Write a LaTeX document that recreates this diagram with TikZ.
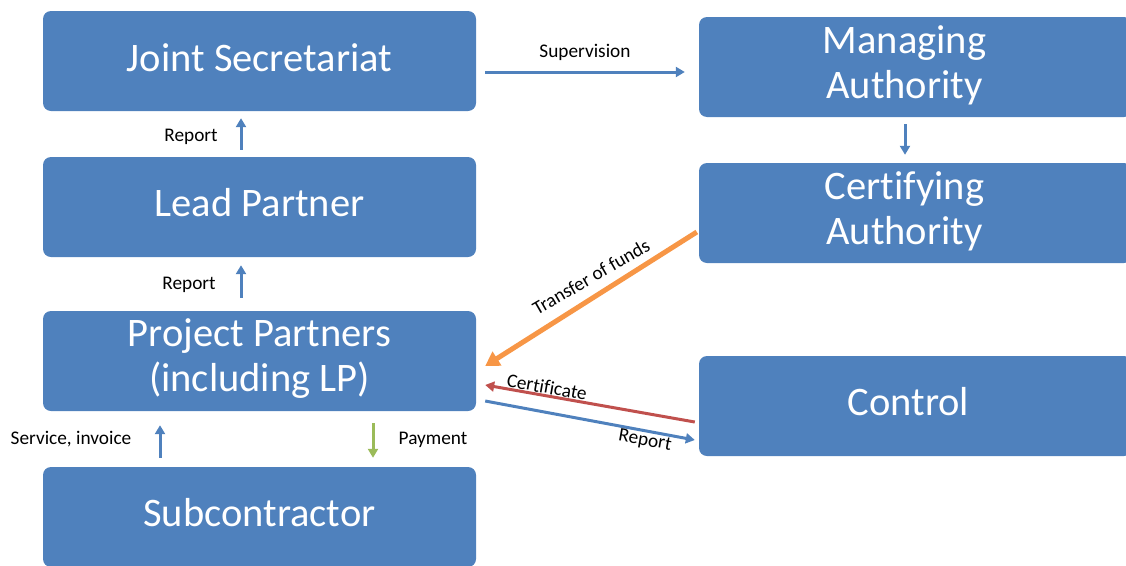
\documentclass[tikz,border=0pt]{standalone}
\usepackage{fontspec}
\setmainfont[Ligatures=NoCommon]{Carlito}
\usetikzlibrary{arrows.meta}
\definecolor{boxblue}{HTML}{4F81BD}
\definecolor{arrblue}{HTML}{4F81BD}
\definecolor{arrorange}{HTML}{F79646}
\definecolor{arrred}{HTML}{C0504D}
\definecolor{arrgreen}{HTML}{9BBB59}
\tikzset{
  boxnode/.style={fill=boxblue, rounded corners=8pt, minimum width=433pt, minimum height=100pt, inner sep=0pt},
  boxtext/.style={text=white, font=\fontsize{40.5}{45}\selectfont, align=center, inner sep=0pt},
  lbl/.style={font=\fontsize{19.3}{21}\selectfont, text=black, inner sep=0pt},
  conn/.style={line width=3pt, -{Triangle[width=10pt,length=9pt]}},
}
\begin{document}
\begin{tikzpicture}[x=1pt,y=-1pt]
\useasboundingbox (0,0) rectangle (1126,565);
\clip (0,0) rectangle (1126,565);
% boxes
\node[boxnode] (js) at (259.5,61) {};
\node[boxnode] (lp) at (259.5,207) {};
\node[boxnode] (pp) at (259.5,361) {};
\node[boxnode] (sub) at (259.5,517) {};
\node[boxnode] (ma) at (915.5,67) {};
\node[boxnode] (ca) at (915.5,213) {};
\node[boxnode] (ctl) at (915.5,406) {};
% box texts
\node[boxtext] (jst) at ([yshift=3pt]js.center) {Joint Secretariat};
\node[boxtext] (lpt) at ([yshift=4pt]lp.center) {Lead Partner};
\node[boxtext] (ppt) at ([yshift=2pt]pp.center) {Project Partners\\(including LP)};
\node[boxtext] (subt) at ([yshift=4pt]sub.center) {Subcontractor};
\node[boxtext] (mat) at ([xshift=-11pt,yshift=1.5pt]ma.center) {Managing\\Authority};
\node[boxtext] (cat) at ([xshift=-11pt,yshift=1.5pt]ca.center) {Certifying\\Authority};
\node[boxtext] (ctlt) at ([xshift=-7pt,yshift=4pt]ctl.center) {Control};
% connectors
\draw[conn, draw=arrblue] ([xshift=9pt,yshift=-11pt]js.east) -- ([xshift=-14pt,yshift=-5pt]ma.west);
\draw[conn, draw=arrblue] ([xshift=-10.5pt,yshift=-7pt]ma.south) -- ([xshift=-10.5pt,yshift=8pt]ca.north);
\draw[conn, draw=arrblue] ([xshift=-18.5pt,yshift=7pt]lp.north) -- ([xshift=-18.5pt,yshift=-7pt]js.south);
\draw[conn, draw=arrblue] ([xshift=-18.5pt,yshift=13pt]pp.north) -- ([xshift=-18.5pt,yshift=-8pt]lp.south);
\draw[conn, draw=arrblue] ([xshift=-99.5pt,yshift=9pt]sub.north) -- ([xshift=-99.5pt,yshift=-14pt]pp.south);
\draw[conn, draw=arrgreen] ([xshift=113.5pt,yshift=-12pt]pp.south) -- ([xshift=113.5pt,yshift=9pt]sub.north);
\draw[line width=5pt, draw=arrorange, -{Triangle[width=16pt,length=14pt]}] ([xshift=-2pt,yshift=-19pt]ca.west) -- ([xshift=9pt,yshift=-5pt]pp.east);
\draw[conn, draw=arrred] ([xshift=-4pt,yshift=-16pt]ctl.west) -- ([xshift=9pt,yshift=-24pt]pp.east);
\draw[conn, draw=arrblue] ([xshift=9pt,yshift=-40pt]pp.east) -- ([xshift=-4pt,yshift=-34pt]ctl.west);
% labels
\node[lbl] (lsup) at (585,52) {Supervision};
\node[lbl] (lrep1) at (191,137) {Report};
\node[lbl] (lrep2) at (189,285) {Report};
\node[lbl] (lserv) at (71,439) {Service, invoice};
\node[lbl] (lpay) at (433,440) {Payment};
\node[lbl, rotate=30] (ltra) at (591,277) {Transfer of funds};
\node[lbl, rotate=-10] (lcert) at (547,387) {Certificate};
\node[lbl, rotate=-10] (lrep3) at (645,441) {Report};
\end{tikzpicture}
\end{document}
